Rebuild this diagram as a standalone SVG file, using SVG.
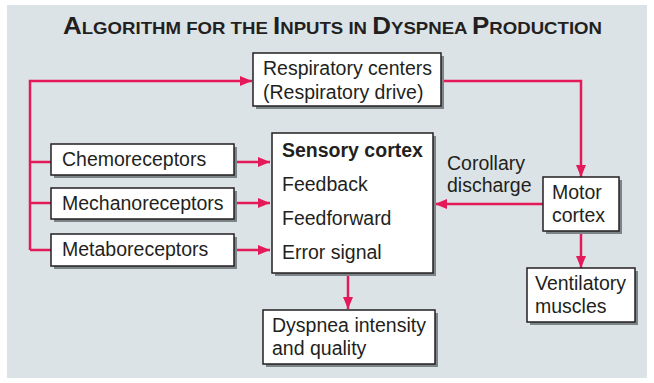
<svg xmlns="http://www.w3.org/2000/svg" width="654" height="383" viewBox="0 0 654 383">
<style>
.bx{fill:#fff;stroke:#231f20;stroke-width:1.5}
.sh{fill:#7d8487}
.t{font-family:"Liberation Sans",Arial,sans-serif;font-size:19.5px;fill:#231f20}
.b{font-weight:bold}
.ln{fill:none;stroke:#e4195a;stroke-width:2.5}
.ttl{font-family:"Liberation Sans",Arial,sans-serif;font-weight:bold;fill:#231f20}
</style>
<defs>
<marker id="ah" viewBox="0 0 12 10" refX="12" refY="5" markerWidth="12" markerHeight="10" markerUnits="userSpaceOnUse" orient="auto">
<path d="M0,0 L12,5 L0,10 Z" fill="#e4195a"/>
</marker>
</defs>
<rect x="0" y="0" width="654" height="383" fill="#fff"/>
<rect x="7" y="5" width="640" height="373" fill="#dce3e6"/>
<text class="ttl" x="63" y="34" textLength="539" lengthAdjust="spacingAndGlyphs"><tspan font-size="23">A</tspan><tspan font-size="16.5">LGORITHM FOR THE </tspan><tspan font-size="23">I</tspan><tspan font-size="16.5">NPUTS IN </tspan><tspan font-size="23">D</tspan><tspan font-size="16.5">YSPNEA </tspan><tspan font-size="23">P</tspan><tspan font-size="16.5">RODUCTION</tspan></text>
<g id="connectors">
<path class="ln" d="M30,250 L30,81 L252,81" marker-end="url(#ah)"/>
<path class="ln" d="M30,162 L51,162 M30,203 L51,203 M30,250 L51,250"/>
<path class="ln" d="M441,81 L581,81 L581,177" marker-end="url(#ah)"/>
<path class="ln" d="M234,162 L270,162" marker-end="url(#ah)"/>
<path class="ln" d="M234,203 L270,203" marker-end="url(#ah)"/>
<path class="ln" d="M234,250 L270,250" marker-end="url(#ah)"/>
<path class="ln" d="M543,204 L435,204" marker-end="url(#ah)"/>
<path class="ln" d="M581,231 L581,268" marker-end="url(#ah)"/>
<path class="ln" d="M348,273 L348,309" marker-end="url(#ah)"/>
</g>
<g id="resp">
<rect class="sh" x="256" y="56" width="188" height="53"/>
<rect class="bx" x="253" y="53" width="188" height="53"/>
<text class="t" x="263" y="75">Respiratory centers</text>
<text class="t" x="263" y="99">(Respiratory drive)</text>
</g>
<g id="chemo">
<rect class="sh" x="54" y="147" width="183" height="31"/>
<rect class="bx" x="51" y="144" width="183" height="31"/>
<text class="t" x="62" y="166">Chemoreceptors</text>
</g>
<g id="mech">
<rect class="sh" x="54" y="191" width="183" height="31"/>
<rect class="bx" x="51" y="188" width="183" height="31"/>
<text class="t" x="62" y="210">Mechanoreceptors</text>
</g>
<g id="meta">
<rect class="sh" x="54" y="237" width="183" height="32"/>
<rect class="bx" x="51" y="234" width="183" height="32"/>
<text class="t" x="62" y="256">Metaboreceptors</text>
</g>
<g id="sensory">
<rect class="sh" x="275" y="136" width="161" height="140"/>
<rect class="bx" x="272" y="133" width="161" height="140"/>
<text class="t b" x="282" y="157">Sensory cortex</text>
<text class="t" x="282" y="191">Feedback</text>
<text class="t" x="282" y="225">Feedforward</text>
<text class="t" x="282" y="259">Error signal</text>
</g>
<g id="corollary">
<text class="t" x="447" y="170">Corollary</text>
<text class="t" x="447" y="192">discharge</text>
</g>
<g id="motor">
<rect class="sh" x="546" y="180" width="76" height="54"/>
<rect class="bx" x="543" y="177" width="76" height="54"/>
<text class="t" x="552" y="199">Motor</text>
<text class="t" x="552" y="222">cortex</text>
</g>
<g id="vent">
<rect class="sh" x="530" y="271" width="108" height="54"/>
<rect class="bx" x="527" y="268" width="108" height="54"/>
<text class="t" x="535" y="290">Ventilatory</text>
<text class="t" x="535" y="313">muscles</text>
</g>
<g id="dysp">
<rect class="sh" x="266" y="313" width="172" height="54"/>
<rect class="bx" x="263" y="310" width="172" height="54"/>
<text class="t" x="272" y="332">Dyspnea intensity</text>
<text class="t" x="272" y="355">and quality</text>
</g>
</svg>
